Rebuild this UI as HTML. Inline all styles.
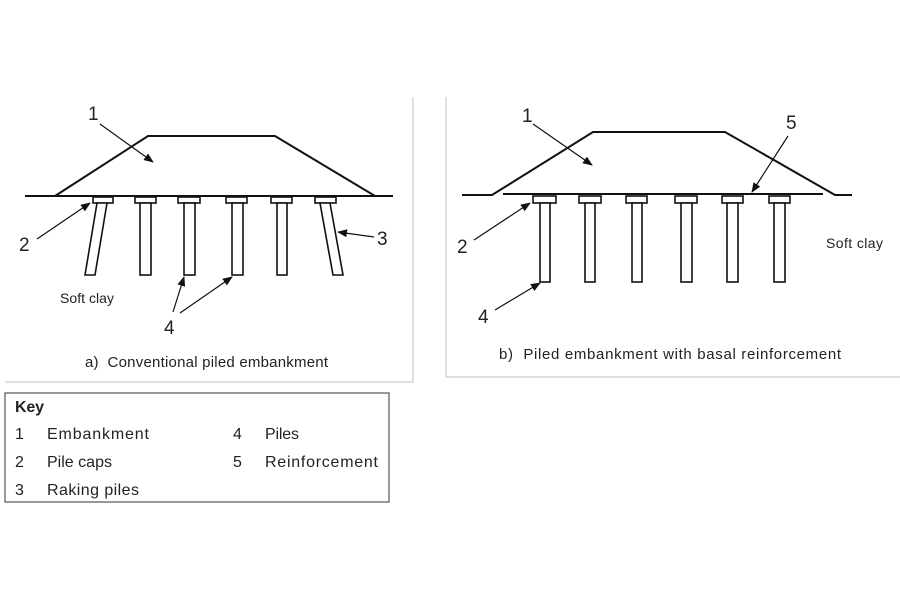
<!DOCTYPE html>
<html><head><style>
body{margin:0;background:#fff;}
svg text{font-family:"Liberation Sans",sans-serif;fill:#222;}
</style></head><body>
<svg width="900" height="600" viewBox="0 0 900 600" xmlns="http://www.w3.org/2000/svg">
<defs>
<marker id="ah" markerWidth="10" markerHeight="8" refX="9" refY="4" orient="auto" markerUnits="userSpaceOnUse">
<path d="M0,0 L10,4 L0,8 Z" fill="#111"/></marker>
</defs>
<polyline points="413,97 413,382 5,382" fill="none" stroke="#ccc" stroke-width="1.2"/>
<polyline points="446,97 446,377 900,377" fill="none" stroke="#ccc" stroke-width="1.2"/>

<!-- Panel a -->
<g stroke="#111" fill="none" stroke-width="2">
<line x1="25" y1="196" x2="393" y2="196"/>
<polyline points="55,196 148,136 275,136 375,196"/>
</g>
<g stroke="#111" fill="#fff" stroke-width="1.6">
<rect x="93" y="197" width="20" height="6"/>
<rect x="135" y="197" width="21" height="6"/>
<rect x="178" y="197" width="22" height="6"/>
<rect x="226" y="197" width="21" height="6"/>
<rect x="271" y="197" width="21" height="6"/>
<rect x="315" y="197" width="21" height="6"/>
<polygon points="97,203 107,203 95,275 85,275"/>
<rect x="140" y="203" width="11" height="72"/>
<rect x="184" y="203" width="11" height="72"/>
<rect x="232" y="203" width="11" height="72"/>
<rect x="277" y="203" width="10" height="72"/>
<polygon points="320,203 330,203 343,275 333,275"/>
</g>
<g stroke="#111" stroke-width="1.2" marker-end="url(#ah)">
<line x1="100" y1="124" x2="153" y2="162"/>
<line x1="37" y1="239" x2="90" y2="203"/>
<line x1="374" y1="237" x2="338" y2="232"/>
<line x1="173" y1="312" x2="184" y2="277"/>
<line x1="180" y1="313" x2="232" y2="277"/>
</g>
<g font-size="19">
<text x="88" y="120">1</text>
<text x="19" y="251">2</text>
<text x="377" y="245">3</text>
<text x="164" y="334">4</text>
</g>
<text x="60" y="303" font-size="14" textLength="54">Soft clay</text>
<text x="85" y="367" font-size="15" textLength="243">a)&#160;&#160;Conventional piled embankment</text>

<!-- Panel b -->
<g stroke="#111" fill="none" stroke-width="2">
<polyline points="462,195 492,195 593,132 725,132 835,195 852,195"/>
<line x1="503" y1="194" x2="823" y2="194"/>
</g>
<g stroke="#111" fill="#fff" stroke-width="1.6">
<rect x="533" y="196" width="23" height="7"/>
<rect x="579" y="196" width="22" height="7"/>
<rect x="626" y="196" width="21" height="7"/>
<rect x="675" y="196" width="22" height="7"/>
<rect x="722" y="196" width="21" height="7"/>
<rect x="769" y="196" width="21" height="7"/>
<rect x="540" y="203" width="10" height="79"/>
<rect x="585" y="203" width="10" height="79"/>
<rect x="632" y="203" width="10" height="79"/>
<rect x="681" y="203" width="11" height="79"/>
<rect x="727" y="203" width="11" height="79"/>
<rect x="774" y="203" width="11" height="79"/>
</g>
<g stroke="#111" stroke-width="1.2" marker-end="url(#ah)">
<line x1="533" y1="124" x2="592" y2="165"/>
<line x1="788" y1="136" x2="752" y2="192"/>
<line x1="474" y1="240" x2="530" y2="203"/>
<line x1="495" y1="310" x2="540" y2="283"/>
</g>
<g font-size="19">
<text x="522" y="122">1</text>
<text x="786" y="129">5</text>
<text x="457" y="253">2</text>
<text x="478" y="323">4</text>
</g>
<text x="826" y="248" font-size="14" textLength="57">Soft clay</text>
<text x="499" y="359" font-size="15" textLength="342">b)&#160;&#160;Piled embankment with basal reinforcement</text>

<!-- Key -->
<rect x="5" y="393" width="384" height="109" fill="none" stroke="#555" stroke-width="1.2"/>
<g font-size="16">
<text x="15" y="412" font-weight="bold" fill="#333" textLength="29">Key</text>
<text x="15" y="439">1</text><text x="47" y="439" textLength="102">Embankment</text>
<text x="15" y="467">2</text><text x="47" y="467" textLength="65">Pile caps</text>
<text x="15" y="495">3</text><text x="47" y="495" textLength="92">Raking piles</text>
<text x="233" y="439">4</text><text x="265" y="439" textLength="34">Piles</text>
<text x="233" y="467">5</text><text x="265" y="467" textLength="113">Reinforcement</text>
</g>
</svg>
</body></html>
